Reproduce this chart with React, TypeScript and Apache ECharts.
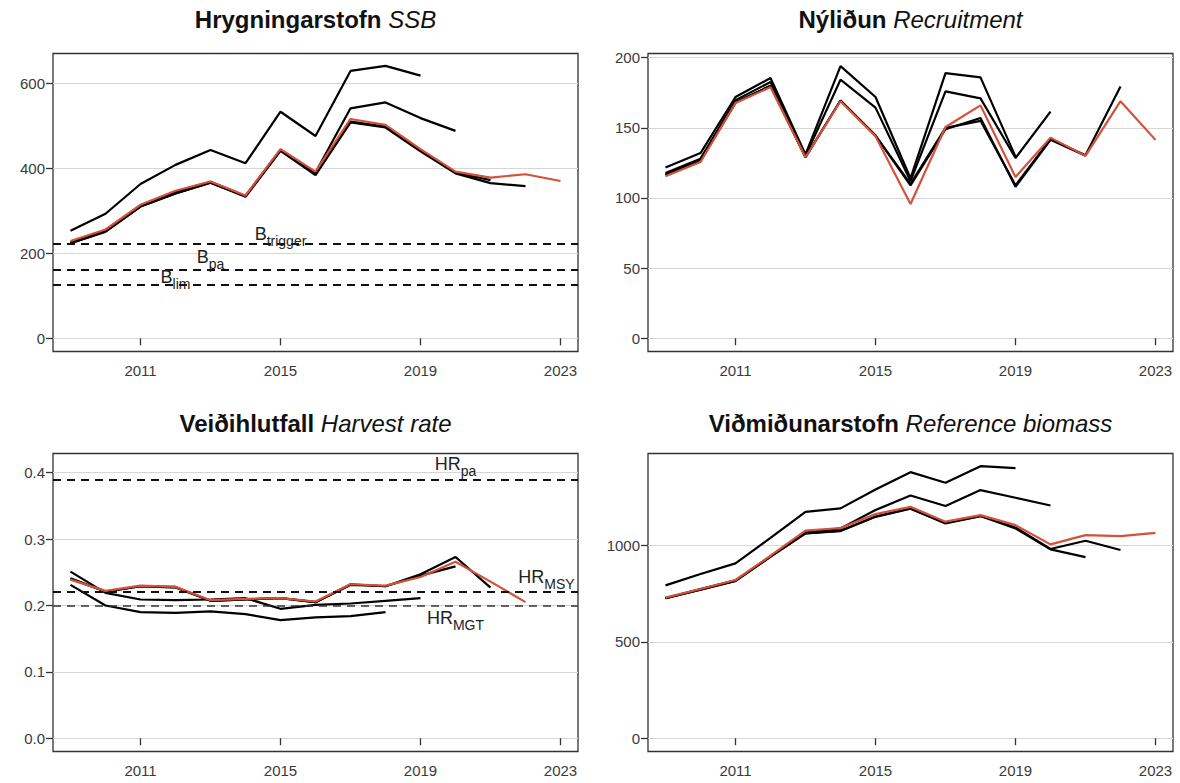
import React, { useEffect, useRef } from "react";
import * as echarts from "echarts";

const years = [2009, 2010, 2011, 2012, 2013, 2014, 2015, 2016, 2017, 2018, 2019, 2020, 2021, 2022, 2023];
const xTicks = [2011, 2015, 2019, 2023];

// Spawning stock biomass (SSB)
const ssbRetro1 = [253, 293, 363, 408, 443, 412, 533, 476, 629, 641, 618];
const ssbRetro2 = [226, 254, 313, 345, 368, 335, 444, 390, 541, 555, 518, 488];
const ssbRetro3 = [224, 251, 310, 341, 366, 334, 442, 386, 510, 498, 442, 390, 372];
const ssbRetro4 = [224, 251, 310, 341, 366, 333, 441, 384, 508, 496, 440, 388, 365, 358];
const ssbCurrent = [229, 256, 314, 347, 369, 336, 445, 392, 516, 502, 445, 392, 378, 386, 370];
const ssbTicks = [0, 200, 400, 600];
const ssbRefValues = [222, 161, 125];

// Recruitment
const recRetro1 = [121.7, 132, 172, 185.5, 131, 194, 172, 114, 189, 186, 129.5];
const recRetro2 = [117.8, 128, 169.6, 182.7, 130, 184.3, 164.4, 112, 176, 171, 128.5, 161.6];
const recRetro3 = [116.5, 126.5, 168, 180, 129, 169.5, 144.5, 109, 149, 157, 108, 141.5, 130];
const recRetro4 = [116.5, 126.5, 168, 180, 129, 169.5, 144.5, 110, 150, 155, 109, 142, 130.5, 179.5];
const recCurrent = [115.5, 125.6, 167.7, 179, 129, 169, 144, 95.7, 150.6, 166, 115, 143, 130, 169, 141.4];
const recTicks = [0, 50, 100, 150, 200];

// Harvest rate
const hrRetro1 = [0.231, 0.2, 0.19, 0.189, 0.191, 0.187, 0.178, 0.182, 0.184, 0.19];
const hrRetro2 = [0.251, 0.219, 0.209, 0.208, 0.209, 0.211, 0.195, 0.201, 0.203, 0.207, 0.211];
const hrRetro3 = [0.24, 0.221, 0.229, 0.227, 0.207, 0.209, 0.211, 0.205, 0.231, 0.229, 0.245, 0.259];
const hrRetro4 = [0.241, 0.221, 0.229, 0.228, 0.207, 0.209, 0.211, 0.205, 0.232, 0.229, 0.247, 0.273, 0.227];
const hrCurrent = [0.239, 0.222, 0.23, 0.228, 0.208, 0.21, 0.211, 0.206, 0.232, 0.23, 0.243, 0.266, 0.236, 0.205];
const hrTicks = [0, 0.1, 0.2, 0.3, 0.4];
const hrRefValues = [0.39, 0.22, 0.2];

// Reference biomass
const refRetro1 = [794, 853, 908, 1041, 1176, 1194, 1292, 1382, 1327, 1413, 1403];
const refRetro2 = [728, 775, 820, 945, 1070, 1090, 1185, 1261, 1206, 1289, 1249, 1209];
const refRetro3 = [727, 772, 817, 943, 1064, 1078, 1152, 1194, 1118, 1155, 1090, 981, 941];
const refRetro4 = [727, 772, 817, 943, 1064, 1076, 1150, 1192, 1116, 1154, 1095, 983, 1026, 978];
const refCurrent = [730, 775, 822, 948, 1078, 1092, 1164, 1202, 1125, 1159, 1107, 1007, 1055, 1050, 1067];
const refTicks = [0, 500, 1000];

const FONT = "'Liberation Sans', Arial, Helvetica, sans-serif";
const RED = "#d4513b";

type Label = { x: number; y: number; main: string; sub: string };
type Ref = { value: number; width: number; color: string };

type Panel = {
  titleBold: string;
  titleItalic: string;
  left: number;
  top: number;
  titleGap: number;
  yMin: number;
  yMax: number;
  yTicks: number[];
  yFmt: (v: number) => string;
  retro: number[][];
  current: number[];
  refs: Ref[];
  labels: Label[];
};

const W = 525;
const H = 298;

const panels: Panel[] = [
  {
    titleBold: "Hrygningarstofn",
    titleItalic: "SSB",
    left: 53,
    top: 53.5,
    titleGap: 34,
    yMin: -31,
    yMax: 670,
    yTicks: ssbTicks,
    yFmt: (v) => String(v),
    retro: [ssbRetro1, ssbRetro2, ssbRetro3, ssbRetro4],
    current: ssbCurrent,
    refs: ssbRefValues.map((v) => ({ value: v, width: 2, color: "#111" })),
    labels: [
      { x: 2015, y: 242, main: "B", sub: "trigger" },
      { x: 2013, y: 190, main: "B", sub: "pa" },
      { x: 2012, y: 143, main: "B", sub: "lim" },
    ],
  },
  {
    titleBold: "Nýliðun",
    titleItalic: "Recruitment",
    left: 648,
    top: 53.5,
    titleGap: 34,
    yMin: -9.5,
    yMax: 203,
    yTicks: recTicks,
    yFmt: (v) => String(v),
    retro: [recRetro1, recRetro2, recRetro3, recRetro4],
    current: recCurrent,
    refs: [],
    labels: [],
  },
  {
    titleBold: "Veiðihlutfall",
    titleItalic: "Harvest rate",
    left: 53,
    top: 453.5,
    titleGap: 30,
    yMin: -0.02,
    yMax: 0.429,
    yTicks: hrTicks,
    yFmt: (v) => v.toFixed(1),
    retro: [hrRetro1, hrRetro2, hrRetro3, hrRetro4],
    current: hrCurrent,
    refs: [
      { value: hrRefValues[0], width: 2, color: "#111" },
      { value: hrRefValues[1], width: 2, color: "#111" },
      { value: hrRefValues[2], width: 1.5, color: "#333" },
    ],
    labels: [
      { x: 2020, y: 0.412, main: "HR", sub: "pa" },
      { x: 2022.6, y: 0.2407, main: "HR", sub: "MSY" },
      { x: 2020, y: 0.179, main: "HR", sub: "MGT" },
    ],
  },
  {
    titleBold: "Viðmiðunarstofn",
    titleItalic: "Reference biomass",
    left: 648,
    top: 453.5,
    titleGap: 30,
    yMin: -69,
    yMax: 1479,
    yTicks: refTicks,
    yFmt: (v) => String(v),
    retro: [refRetro1, refRetro2, refRetro3, refRetro4],
    current: refCurrent,
    refs: [],
    labels: [],
  },
];

const toPairs = (vals: number[]) => vals.map((v, i) => [years[i], v]);

function buildOption() {
  const grid: any[] = [];
  const xAxis: any[] = [];
  const yAxis: any[] = [];
  const series: any[] = [];
  const graphic: any[] = [];

  panels.forEach((p, idx) => {
    grid.push({
      left: p.left,
      top: p.top,
      width: W,
      height: H,
      show: true,
      borderColor: "#333",
      borderWidth: 1.3,
      backgroundColor: "transparent",
      containLabel: false,
    });
    xAxis.push({
      type: "value",
      gridIndex: idx,
      min: 2008.5,
      max: 2023.5,
      axisLine: { show: false },
      axisTick: { show: true, length: 7, customValues: xTicks, lineStyle: { color: "#333", width: 1.3 } },
      axisLabel: {
        customValues: xTicks,
        formatter: (v: number) => String(v),
        fontFamily: FONT,
        fontSize: 15,
        color: "#3a3a3a",
        margin: 11,
      },
      splitLine: { show: false },
    });
    yAxis.push({
      type: "value",
      gridIndex: idx,
      min: p.yMin,
      max: p.yMax,
      axisLine: { show: false },
      axisTick: { show: true, length: 7, customValues: p.yTicks, lineStyle: { color: "#333", width: 1.3 } },
      axisLabel: {
        customValues: p.yTicks,
        formatter: p.yFmt,
        fontFamily: FONT,
        fontSize: 15,
        color: "#3a3a3a",
        margin: 8,
      },
      splitLine: { show: true, lineStyle: { color: "#d6d6d6", width: 1.2 } },
    });

    p.retro.forEach((r) => {
      series.push({
        type: "line",
        xAxisIndex: idx,
        yAxisIndex: idx,
        data: toPairs(r),
        showSymbol: false,
        symbol: "none",
        lineStyle: { color: "#000", width: 2.2 },
        silent: true,
        z: 3,
      });
    });

    const rich = {
      m: { fontFamily: FONT, fontSize: 18, color: "#222", lineHeight: 20, verticalAlign: "top" },
      s: { fontFamily: FONT, fontSize: 14, color: "#222", lineHeight: 14, padding: [12, 0, 0, 0] },
    };

    series.push({
      type: "line",
      xAxisIndex: idx,
      yAxisIndex: idx,
      data: toPairs(p.current),
      showSymbol: false,
      symbol: "none",
      lineStyle: { color: RED, width: 2.2 },
      silent: true,
      z: 4,
      markLine: p.refs.length
        ? {
            silent: true,
            symbol: ["none", "none"],
            label: { show: false },
            data: p.refs.map((r) => ({
              yAxis: r.value,
              lineStyle: { type: [8, 6], color: r.color, width: r.width },
            })),
          }
        : undefined,
      markPoint: p.labels.length
        ? {
            silent: true,
            symbol: "circle",
            symbolSize: 0,
            itemStyle: { color: "transparent" },
            data: p.labels.map((l) => ({
              coord: [l.x, l.y],
              label: {
                show: true,
                position: "inside",
                formatter: `{m|${l.main}}{s|${l.sub}}`,
                rich,
              },
            })),
          }
        : undefined,
    });

    graphic.push({
      type: "text",
      x: p.left + W / 2,
      y: p.top - p.titleGap,
      style: {
        text: `{b|${p.titleBold}\u00a0}{i|${p.titleItalic}}`,
        textAlign: "center",
        textVerticalAlign: "middle",
        rich: {
          b: { fontFamily: FONT, fontSize: 24, fontWeight: "bold", fill: "#111" },
          i: { fontFamily: FONT, fontSize: 24, fontStyle: "italic", fill: "#111" },
        },
      },
    });
  });

  return {
    animation: false,
    backgroundColor: "#fff",
    grid,
    xAxis,
    yAxis,
    series,
    graphic,
  };
}

export default function App() {
  const ref = useRef<HTMLDivElement>(null);
  useEffect(() => {
    document.body.style.margin = "0";
    if (!ref.current) return;
    const chart = echarts.init(ref.current, null, { renderer: "svg" });
    chart.setOption(buildOption() as any);
    return () => chart.dispose();
  }, []);
  return <div ref={ref} style={{ width: 1180, height: 783 }} />;
}
